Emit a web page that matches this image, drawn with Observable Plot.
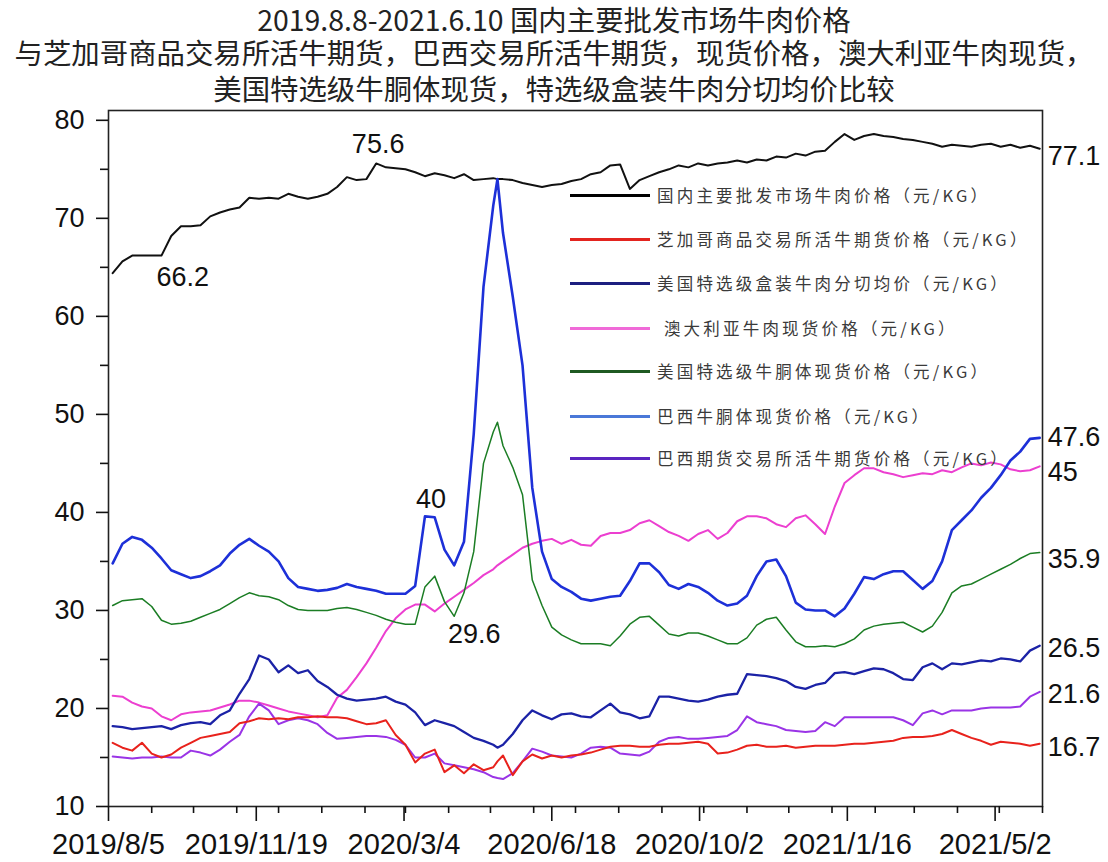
<!DOCTYPE html>
<html><head><meta charset="utf-8">
<script src="https://cdn.jsdelivr.net/npm/d3@7"></script>
<script src="https://cdn.jsdelivr.net/npm/@observablehq/plot@0.6"></script>
<style>
body{margin:0;background:#fff;width:1108px;height:862px;overflow:hidden;position:relative;font-family:"Liberation Sans",Arial,sans-serif}
.t{position:absolute;left:0;width:1108px;text-align:center;font-family:"Noto Sans CJK SC",sans-serif;font-size:28.4px;color:#222;line-height:30px;white-space:nowrap}
#chart{position:absolute;left:0;top:105px}
#legend{position:absolute;left:570px;top:0;width:1px;height:1px}
.row{position:absolute;left:0;height:20px;white-space:nowrap}
.sw{position:absolute;left:0;top:9px;width:80px;height:2.5px}
.lt{position:absolute;left:87px;top:0;font-family:"Noto Sans CJK SC",sans-serif;font-size:16.5px;letter-spacing:3.2px;color:#3a3a3a;line-height:20px;white-space:pre}
</style></head><body>
<div class="t" id="t1" style="top:4px"></div>
<div class="t" id="t2" style="top:37px"></div>
<div class="t" id="t3" style="top:73px"></div>
<div id="chart"></div>
<div id="legend"></div>
<script>
const titleLines = ["2019.8.8-2021.6.10 国内主要批发市场牛肉价格",
  "与芝加哥商品交易所活牛期货，巴西交易所活牛期货，现货价格，澳大利亚牛肉现货，",
  "美国特选级牛胴体现货，特选级盒装牛肉分切均价比较"];

const weeks = [
"2019-08-08","2019-08-15","2019-08-22","2019-08-29","2019-09-05","2019-09-12","2019-09-19","2019-09-26","2019-10-03","2019-10-10",
"2019-10-17","2019-10-24","2019-10-31","2019-11-07","2019-11-14","2019-11-21","2019-11-28","2019-12-05","2019-12-12","2019-12-19",
"2019-12-26","2020-01-02","2020-01-09","2020-01-16","2020-01-23","2020-01-30","2020-02-06","2020-02-13","2020-02-20","2020-02-27",
"2020-03-05","2020-03-12","2020-03-19","2020-03-26","2020-04-02","2020-04-09","2020-04-16","2020-04-23","2020-04-30","2020-05-07",
"2020-05-10",
"2020-05-14","2020-05-21","2020-05-28","2020-06-04","2020-06-11","2020-06-18","2020-06-25","2020-07-02","2020-07-09","2020-07-16",
"2020-07-23","2020-07-30","2020-08-06","2020-08-13","2020-08-20","2020-08-27","2020-09-03","2020-09-10","2020-09-17","2020-09-24",
"2020-10-01","2020-10-08","2020-10-15","2020-10-22","2020-10-29","2020-11-05","2020-11-12","2020-11-19","2020-11-26","2020-12-03",
"2020-12-10","2020-12-17","2020-12-24","2020-12-31","2021-01-07","2021-01-14","2021-01-21","2021-01-28","2021-02-04","2021-02-11",
"2021-02-18","2021-02-25","2021-03-04","2021-03-11","2021-03-18","2021-03-25","2021-04-01","2021-04-08","2021-04-15","2021-04-22",
"2021-04-29","2021-05-06","2021-05-13","2021-05-20","2021-05-27","2021-06-03"];

// 国内主要批发市场牛肉价格
const china = [64.4,65.6,66.2,66.2,66.2,66.2,68.2,69.2,69.2,69.3,
70.2,70.6,70.9,71.1,72.1,72.0,72.1,72.0,72.5,72.2,
72.0,72.2,72.5,73.2,74.2,73.9,74.0,75.6,75.2,75.1,
75.0,74.7,74.3,74.6,74.4,74.1,74.5,73.9,74.0,74.1,
74.0,
74.0,73.9,73.6,73.4,73.2,73.4,73.5,73.8,74.0,74.5,
74.7,75.4,75.5,73.0,73.9,74.3,74.7,75.0,75.4,75.2,
75.6,75.4,75.6,75.7,75.9,75.7,76.0,75.9,76.3,76.2,
76.6,76.4,76.8,76.9,77.8,78.6,78.0,78.4,78.6,78.4,
78.3,78.1,78.0,77.8,77.6,77.3,77.5,77.4,77.3,77.5,
77.6,77.3,77.5,77.2,77.4,77.1];
// 芝加哥商品交易所活牛期货价格
const cme = [16.5,16.0,15.7,16.5,15.4,15.0,15.3,16.0,16.5,17.0,
17.2,17.4,17.6,18.5,18.7,19.0,18.9,19.0,18.9,19.1,
19.1,19.2,19.1,19.1,19.0,18.7,18.4,18.5,18.8,17.3,
16.3,14.5,15.4,15.8,13.5,14.2,13.4,14.3,13.7,14.0,
14.6,
15.2,13.2,14.6,15.3,14.9,15.2,15.0,15.2,15.3,15.5,
15.8,16.1,16.2,16.2,16.1,16.1,16.3,16.4,16.4,16.5,
16.6,16.4,15.4,15.5,15.8,16.2,16.3,16.1,16.1,16.2,
16.0,16.1,16.2,16.2,16.2,16.3,16.4,16.4,16.5,16.6,
16.7,17.0,17.1,17.1,17.2,17.4,17.8,17.4,17.0,16.7,
16.3,16.6,16.5,16.4,16.2,16.4];
// 美国特选级盒装牛肉分切均价
const usBoxed = [34.8,36.8,37.5,37.2,36.4,35.3,34.1,33.7,33.3,33.5,
34.0,34.6,35.8,36.7,37.3,36.6,36.0,35.0,33.3,32.4,
32.2,32.0,32.1,32.3,32.7,32.4,32.2,32.0,31.7,31.7,
31.7,32.5,39.6,39.5,36.2,34.6,37.0,48.0,63.0,71.3,
74.0,
68.5,62.0,55.0,42.5,36.0,33.2,32.4,31.9,31.2,31.0,
31.2,31.4,31.5,33.0,34.8,34.8,33.9,32.6,32.2,32.7,
32.4,31.8,31.0,30.5,30.7,31.5,33.5,35.0,35.2,33.5,
30.8,30.1,30.0,30.0,29.4,30.2,31.7,33.4,33.2,33.7,
34.0,34.0,33.1,32.2,33.0,35.0,38.2,39.2,40.2,41.5,
42.5,43.8,45.3,46.2,47.5,47.6];
// 澳大利亚牛肉现货价格
const aus = [21.3,21.2,20.6,20.2,20.0,19.2,18.8,19.4,19.6,19.7,
19.8,20.1,20.4,20.8,20.8,20.6,20.3,20.0,19.7,19.5,
19.3,19.1,19.3,21.1,21.9,23.2,24.6,26.2,27.9,29.2,
30.1,30.6,30.6,29.9,30.7,31.4,32.1,32.8,33.6,34.2,
34.6,
35.0,35.7,36.4,36.8,37.1,37.3,36.8,37.2,36.7,36.6,
37.6,37.9,37.9,38.2,38.9,39.2,38.6,38.0,37.6,37.1,
37.8,38.2,37.3,37.9,39.1,39.6,39.6,39.4,38.8,38.5,
39.4,39.7,38.8,37.8,40.6,43.0,43.8,44.5,44.5,44.1,
43.9,43.6,43.8,44.0,43.9,44.3,44.1,44.6,45.0,44.8,
45.1,44.9,44.4,44.2,44.3,44.7];
// 美国特选级牛胴体现货价格
const usCarcass = [30.5,31.0,31.1,31.2,30.4,29.0,28.6,28.7,28.9,29.3,
29.7,30.1,30.7,31.3,31.8,31.5,31.4,31.1,30.5,30.1,
30.0,30.0,30.0,30.2,30.3,30.1,29.8,29.5,29.1,28.8,
28.6,28.6,32.4,33.5,30.9,29.4,31.8,36.0,45.0,48.2,
49.2,
46.8,44.6,41.8,33.1,30.5,28.3,27.5,27.0,26.6,26.6,
26.6,26.4,27.4,28.6,29.3,29.4,28.5,27.6,27.4,27.7,
27.7,27.4,27.0,26.6,26.6,27.2,28.5,29.1,29.3,28.0,
26.8,26.3,26.3,26.4,26.3,26.6,27.1,28.0,28.4,28.6,
28.7,28.8,28.3,27.8,28.4,29.8,31.8,32.5,32.7,33.2,
33.7,34.2,34.7,35.3,35.8,35.9];
// 巴西牛胴体现货价格
const brazil = [18.2,18.1,17.9,18.0,18.1,18.2,17.9,18.3,18.5,18.6,
18.4,19.3,19.8,21.5,23.0,25.4,25.0,23.7,24.4,23.6,
23.9,22.8,22.2,21.4,21.0,20.8,20.9,21.0,21.2,20.7,
20.4,19.6,18.3,18.8,18.5,18.2,17.6,17.0,16.7,16.3,
16.0,
16.3,17.4,18.8,19.8,19.3,18.9,19.4,19.5,19.2,19.1,
19.8,20.5,19.6,19.4,19.0,19.2,21.2,21.2,21.0,20.8,
20.7,20.9,21.2,21.4,21.5,23.5,23.4,23.3,23.1,22.8,
22.2,22.0,22.4,22.6,23.6,23.7,23.5,23.8,24.1,24.0,
23.6,23.0,22.9,24.2,24.6,24.0,24.6,24.5,24.7,24.9,
24.8,25.1,25.0,24.8,25.9,26.4];
// 巴西期货交易所活牛期货价格
const b3 = [15.1,15.0,14.9,15.0,15.0,15.1,15.0,15.0,15.7,15.5,
15.2,15.8,16.6,17.3,19.2,20.5,19.8,18.4,18.8,19.0,
18.8,18.4,17.5,16.9,17.0,17.1,17.2,17.2,17.1,16.8,
16.3,15.0,15.0,15.4,14.4,14.2,14.0,13.8,13.5,13.0,
12.9,
12.8,13.4,14.6,15.9,15.6,15.2,15.1,15.0,15.4,16.0,
16.1,16.0,15.4,15.3,15.2,15.6,16.6,17.0,17.1,16.9,
16.9,17.0,17.1,17.2,17.8,19.2,18.6,18.4,18.2,17.8,
17.7,17.6,17.7,18.6,18.2,19.1,19.1,19.1,19.1,19.1,
19.1,18.8,18.3,19.5,19.8,19.4,19.8,19.8,19.8,20.0,
20.1,20.1,20.1,20.2,21.2,21.7];

const seriesNames = ["国内主要批发市场牛肉价格（元/KG）","芝加哥商品交易所活牛期货价格（元/KG）","美国特选级盒装牛肉分切均价（元/KG）",
  " 澳大利亚牛肉现货价格（元/KG）","美国特选级牛胴体现货价格（元/KG）","巴西牛胴体现货价格（元/KG）","巴西期货交易所活牛期货价格（元/KG）"];
const legendColors = ["#000000","#e3241f","#1c1f80","#f06ad8","#1f5a22","#4a78d8","#5a25c0"];
const lineColors = ["#111111","#e8221c","#1d30d8","#ec3fd0","#1b7d24","#1b22a6","#9a34e6"];
const lineWidths = [2,2,2.6,2,1.5,2.3,2];
const seriesValues = [china,cme,usBoxed,aus,usCarcass,brazil,b3];
const drawOrder = [0,3,4,2,5,6,1];

const xMajor = ["2019-08-05","2019-11-19","2020-03-04","2020-06-18","2020-10-02","2021-01-16","2021-05-02"];
const xMinor = ["2019-09-05","2019-10-05","2019-11-05","2019-12-05","2020-01-05","2020-02-05","2020-03-05","2020-04-05",
  "2020-05-05","2020-06-05","2020-07-05","2020-08-05","2020-09-05","2020-10-05","2020-11-05","2020-12-05","2021-01-05",
  "2021-02-05","2021-03-05","2021-04-05","2021-05-05","2021-06-05"];
const yMajor = [10,20,30,40,50,60,70,80];
const yMinor = [15,25,35,45,55,65,75];

const annDates = ["2019-09-05","2020-02-13","2020-03-19","2020-04-09"];
const annValues = [66.2,75.6,39.6,29.4];
const annLabels = ["66.2","75.6","40","29.6"];
const annOffsets = [[31,22],[2,-19],[6,-17],[20,18]];

const endValues = [77.1,47.6,45,35.9,26.5,21.6,16.7];
const endLabels = ["77.1","47.6","45","35.9","26.5","21.6","16.7"];
const endOffsets = [8,-1,9,7,4,2,7];

document.getElementById("t1").textContent = titleLines[0];
document.getElementById("t2").textContent = titleLines[1];
document.getElementById("t3").textContent = titleLines[2];

const P = s => new Date(s);
const dates = weeks.map(P);
const lastDate = dates[dates.length-1];

const lineMarks = drawOrder.map(k => Plot.line(dates.map((d,i)=>({date:d, value:seriesValues[k][i]})),
  {x:"date", y:"value", stroke: lineColors[k], strokeWidth: lineWidths[k], strokeLinejoin:"round"}));

const annMarks = annLabels.map((t,i) => Plot.text([{date:P(annDates[i]), value:annValues[i], label:t}],
  {x:"date", y:"value", text:"label", dx:annOffsets[i][0], dy:annOffsets[i][1], fontSize:27, fill:"#111"}));

const endMarks = endLabels.map((t,i) => Plot.text([{date:lastDate, value:endValues[i], label:t}],
  {x:"date", y:"value", text:"label", textAnchor:"start", dx:8, dy:endOffsets[i], fontSize:27, fill:"#111"}));

const chart = Plot.plot({
  width:1108, height:757,
  marginTop:5, marginBottom:56, marginLeft:108, marginRight:66,
  x:{type:"utc", domain:[P("2019-08-05"), P("2021-06-05")], label:null},
  y:{domain:[10,81], label:null},
  style:{fontFamily:"'Liberation Sans', Arial, sans-serif", color:"#111", background:"white", overflow:"visible"},
  marks:[
    ...lineMarks,
    Plot.frame({stroke:"#222", strokeWidth:1.6}),
    Plot.axisY(yMajor, {tickSize:12, tickPadding:12, fontSize:27, strokeWidth:1.6, label:null, tickFormat:d=>String(d)}),
    Plot.axisY(yMinor, {tickSize:8, strokeWidth:1.6, label:null, tickFormat:()=>""}),
    Plot.axisX(xMajor.map(P), {tickSize:15, tickPadding:12, fontSize:29, strokeWidth:1.6, label:null, tickFormat:d3.utcFormat("%Y/%-m/%-d")}),
    Plot.axisX(xMinor.map(P), {tickSize:7, strokeWidth:1.6, label:null, tickFormat:()=>""}),
    ...annMarks,
    ...endMarks
  ]
});
document.getElementById("chart").appendChild(chart);

const legendRowCenters = [195,239,283,328,371,416,458];
const lg = document.getElementById("legend");
seriesNames.forEach((n,i)=>{
  const r = document.createElement("div");
  r.className = "row";
  r.style.top = (legendRowCenters[i]-10) + "px";
  const sw = document.createElement("div");
  sw.className = "sw"; sw.style.background = legendColors[i];
  const t = document.createElement("div");
  t.className = "lt"; t.textContent = n;
  r.appendChild(sw); r.appendChild(t); lg.appendChild(r);
});
</script>
</body></html>
